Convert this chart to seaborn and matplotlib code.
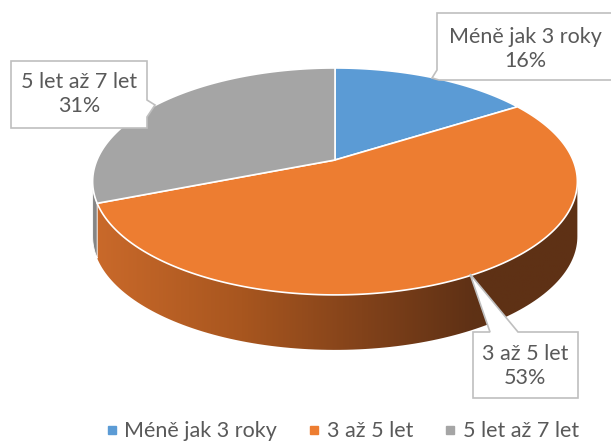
import numpy as np
import seaborn as sns
import matplotlib.pyplot as plt
from matplotlib.patches import Polygon
from matplotlib.lines import Line2D
from matplotlib.colors import LinearSegmentedColormap

labels = ["Méně jak 3 roky", "3 až 5 let", "5 let až 7 let"]
shares = [16, 53, 31]
colors = ["#5B9BD5", "#ED7D31", "#A5A5A5"]

sns.set_style("white")
plt.rcParams['font.family'] = ['Lato', 'DejaVu Sans']
palette = sns.color_palette(colors)

# geometry of the tilted pie (pixel units of the 611x443 canvas)
CX, CY, RX, RY, P, DEPTH = 335, 160, 238, 109.4, 0.189, 55


def proj(theta, drop=0.0):
    t = np.deg2rad(theta)
    u, v = np.cos(t), np.sin(t)
    d = 1 + P * v
    return CX + RX * u / d, CY - RY * v / d + drop


fig = plt.figure(figsize=(6.11, 4.43), dpi=100)
ax = fig.add_axes([0, 0, 1, 1])
ax.set_xlim(0, 611)
ax.set_ylim(443, 0)
ax.axis('off')

# slice angles, starting at 12 o'clock going clockwise
fr = np.array(shares) / sum(shares)
ends = 90 - 360 * np.cumsum(fr)
starts = np.concatenate([[90], ends[:-1]])

# visible front wall lies between the two silhouette angles
sil_l = 180 + np.degrees(np.arcsin(P))
sil_r = 360 - np.degrees(np.arcsin(P))

side_cmap = LinearSegmentedColormap.from_list(
    "side", [(0, "#C9692A"), (0.3, "#A8561F"), (0.55, "#82421A"), (0.78, "#5F3115"), (1, "#5E3115")])
side_colors = {0: "#4A7DAE", 2: "#858585"}

for i in range(len(shares)):
    a0, a1 = ends[i] % 360, starts[i] % 360
    if a1 <= a0:
        a1 += 360
    lo, hi = max(a0, sil_l), min(a1, sil_r)
    if lo >= hi:
        lo, hi = max(a0 - 360, sil_l), min(a1 - 360, sil_r)
    if lo >= hi:
        continue
    th = np.linspace(lo, hi, 120)
    tx, ty = proj(th)
    bx, by = proj(th[::-1], DEPTH)
    pts = np.column_stack([np.concatenate([tx, bx]), np.concatenate([ty, by])])
    if i == 1:
        poly = Polygon(pts, closed=True, facecolor='none', edgecolor='none')
        ax.add_patch(poly)
        grad = np.linspace(0, 1, 256).reshape(1, -1)
        img = ax.imshow(grad, cmap=side_cmap, aspect='auto',
                        extent=(tx.min(), tx.max(), by.max() + 2, ty.min() - 2), zorder=1)
        img.set_clip_path(poly)
    else:
        ax.add_patch(Polygon(pts, closed=True, facecolor=side_colors.get(i, "#808080"),
                             edgecolor='white', lw=0.6, zorder=1))

# top surface
for i in range(len(shares)):
    th = np.linspace(starts[i], ends[i], 200)
    x, y = proj(th)
    pts = np.column_stack([np.concatenate([[CX], x]), np.concatenate([[CY], y])])
    ax.add_patch(Polygon(pts, closed=True, facecolor=palette[i], edgecolor='white',
                         lw=1.2, joinstyle='round', zorder=2))

# callout labels
callouts = [
    dict(shape=[(437, 13), (615, 13), (615, 80), (439, 80), (432, 78), (437, 70)], xy=(525, 49)),
    dict(shape=[(473, 332), (490, 332), (470, 274), (518, 332), (578, 332), (578, 398), (473, 398)], xy=(525, 366)),
    dict(shape=[(11, 61), (147, 61), (147, 100), (155, 105), (147, 117), (147, 128), (11, 128)], xy=(79, 94)),
]
for i, c in enumerate(callouts):
    ax.add_patch(Polygon(c['shape'], closed=True, facecolor='white', edgecolor='#BFBFBF',
                         lw=1.2, zorder=3))
    ax.text(c['xy'][0], c['xy'][1], f"{labels[i]}\n{shares[i]}%", ha='center', va='center',
            fontsize=15.5, color='#595959', linespacing=1.22, zorder=4)

handles = [Line2D([], [], marker='s', ls='', color=palette[i], markersize=5.5) for i in range(len(labels))]
fig.legend(handles, labels, loc='lower center', ncol=3, frameon=False, fontsize=15.5,
           bbox_to_anchor=(0.557, -0.04), handletextpad=0.15, columnspacing=1.25,
           labelcolor='#595959', handlelength=0.9)

plt.savefig('out.png', dpi=100)
plt.close()
